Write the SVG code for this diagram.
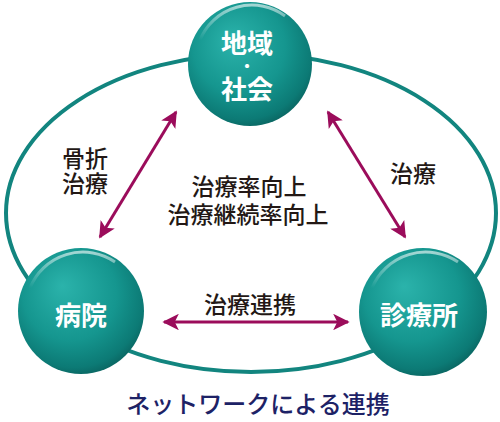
<svg xmlns="http://www.w3.org/2000/svg" width="500" height="422" viewBox="0 0 500 422">
<defs>
<radialGradient id="ball" cx="0.45" cy="0.4" r="0.62" fx="0.35" fy="0.3">
<stop offset="0" stop-color="#2bb3ab"/>
<stop offset="0.6" stop-color="#15968f"/>
<stop offset="0.9" stop-color="#0c7a75"/>
<stop offset="1" stop-color="#0a6662"/>
</radialGradient>
<linearGradient id="shine" x1="0" y1="0" x2="0" y2="1">
<stop offset="0" stop-color="#ffffff" stop-opacity="0.6"/>
<stop offset="1" stop-color="#ffffff" stop-opacity="0"/>
</linearGradient>
<marker id="ah" viewBox="0 0 10 10" refX="9" refY="5" markerWidth="5.5" markerHeight="5.5" orient="auto-start-reverse" markerUnits="strokeWidth">
<path d="M0,0 L10,5 L0,10 L2.5,5 Z" fill="#9b0c5b"/>
</marker>
</defs>
<style>
.ring{fill:none;stroke:#12857f;stroke-width:4}
.arr{stroke:#9b0c5b;stroke-width:3;fill:none;marker-start:url(#ah);marker-end:url(#ah)}
.node{fill:url(#ball)}
.hl{fill:none;stroke:url(#shine);stroke-width:3}
.nt{font-family:"Noto Sans CJK JP","Noto Sans",sans-serif;font-size:26px;font-weight:700;fill:#ffffff;text-anchor:middle}
.dot{font-size:16px}
.lb{font-family:"Noto Sans CJK JP","Noto Sans",sans-serif;font-size:23px;font-weight:500;fill:#231815;text-anchor:middle}
.ft{font-family:"Noto Sans CJK JP","Noto Sans",sans-serif;font-size:24px;font-weight:500;fill:#1d2266;text-anchor:middle}
</style>
<ellipse class="ring" cx="251" cy="213" rx="245" ry="159"/>
<g id="connectors">
<line class="arr" x1="176" y1="112" x2="100" y2="237"/>
<line class="arr" x1="328" y1="112" x2="405" y2="237"/>
<line class="arr" x1="164" y1="322" x2="348" y2="322"/>
</g>
<g id="node-chiiki">
<circle class="node" cx="250" cy="64" r="62"/>
<path class="hl" d="M200,40 A56,56 0 0 1 285,16"/>
<text class="nt"><tspan x="247" y="53">地域</tspan><tspan class="dot" x="247" y="72">・</tspan><tspan x="247" y="99">社会</tspan></text>
</g>
<g id="node-byoin">
<circle class="node" cx="81" cy="311" r="63"/>
<path class="hl" d="M30,288 A57,57 0 0 1 115,262"/>
<text class="nt" x="81" y="325">病院</text>
</g>
<g id="node-shinryojo">
<circle class="node" cx="423" cy="312" r="64"/>
<path class="hl" d="M372,288 A58,58 0 0 1 458,262"/>
<text class="nt" x="419" y="325">診療所</text>
</g>
<g id="labels">
<text class="lb"><tspan x="85" y="167">骨折</tspan><tspan x="85" y="192">治療</tspan></text>
<text class="lb"><tspan x="249" y="195">治療率向上</tspan><tspan x="248" y="223">治療継続率向上</tspan></text>
<text class="lb" x="413" y="182">治療</text>
<text class="lb" x="250" y="313">治療連携</text>
<text class="ft" x="258" y="413">ネットワークによる連携</text>
</g>
</svg>
